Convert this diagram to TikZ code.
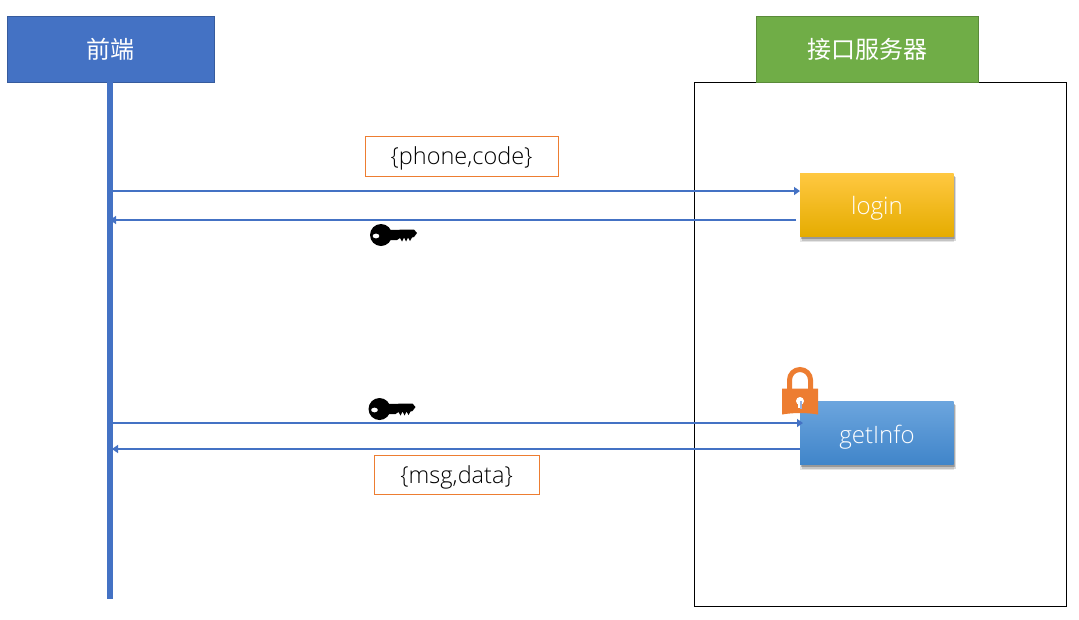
\documentclass[tikz,border=0pt]{standalone}
\usepackage{fontspec}
\setmainfont{Open Sans}[UprightFont=* Light]
\newfontfamily\cjk{Noto Sans CJK SC}[UprightFont=*]
\usetikzlibrary{arrows.meta,shadows}
\definecolor{blueA}{HTML}{4472C4}
\definecolor{greenA}{HTML}{70AD47}
\definecolor{orangeA}{HTML}{ED7D31}
\newcommand{\lowered}[2]{\raisebox{-#1pt}[0pt][0pt]{#2}}
\tikzset{
  header/.style={draw=blueA!80!black,line width=.5pt,text=white,font=\cjk\fontsize{24}{28}\selectfont,anchor=north west,inner sep=0pt},
  softshadow/.style={
     drop shadow={shadow xshift=0pt,shadow yshift=-5pt,opacity=.10,fill=black},
     drop shadow={shadow xshift=2pt,shadow yshift=-4pt,opacity=.14,fill=black},
     drop shadow={shadow xshift=1pt,shadow yshift=-2.5pt,opacity=.22,fill=black}},
  method/.style={anchor=north west,inner sep=0pt,minimum width=153.5pt,minimum height=63.5pt,text=white,font=\fontsize{24}{28}\selectfont,softshadow},
  tag/.style={draw=orangeA,line width=.7pt,fill=white,anchor=north west,inner sep=0pt,minimum height=39.5pt,font=\fontsize{23.5}{28}\selectfont,text=black},
  flow/.style={draw=blueA,line width=1.4pt,-{Triangle[length=6pt,width=8pt]}},
  keyicon/.pic={
    \fill[black,even odd rule] (0,0) circle[radius=11pt] (-5,1) ellipse[x radius=3.5pt,y radius=2.5pt];
    \fill[black] (8,-5) -- (29,-5.5) -- (33,-5.5) -- (36,-2) -- (33,2) -- (31,2.5) -- (29,6) -- (27,2.5) -- (25,6.5) -- (23,2.5) -- (21,6.5) -- (19,3) -- (16,5) -- (8,5) -- cycle;
  }
}
\begin{document}
\begin{tikzpicture}[x=1pt,y=-1pt]
\useasboundingbox (0,0) rectangle (1079,619);
\fill[white] (0,0) rectangle (1079,619);
\node[draw=black,line width=.8pt,anchor=north west,minimum width=372pt,minimum height=524pt,inner sep=0pt] (serverbox) at (694,82) {};
\node[header,fill=blueA,minimum width=207pt,minimum height=65.5pt] (front) at (7,16) {\lowered{9.5}{前端}};
\node[header,fill=greenA,draw=greenA!80!black,minimum width=222pt,minimum height=65.5pt] (server) at (756,16) {\lowered{9.5}{接口服务器}};
\coordinate (lifeEnd) at (110,599);
\draw[blueA,line width=5.5pt] (front.south -| lifeEnd) -- (lifeEnd);
\node[method,top color={rgb,255:red,255;green,200;blue,65},middle color={rgb,255:red,255;green,192;blue,0},bottom color={rgb,255:red,229;green,172;blue,0}] (login) at (800,173) {\lowered{10}{login}};
\node[method,top color={rgb,255:red,108;green,165;blue,222},middle color={rgb,255:red,84;green,152;blue,220},bottom color={rgb,255:red,64;green,133;blue,201}] (getinfo) at (800,401) {\lowered{10.5}{getInfo}};
\node[tag,minimum width=192.5pt] (req) at (365,136) {\lowered{8}{\{phone,code\}}};
\node[tag,minimum width=164.5pt] (resp) at (374,454.5) {\lowered{9}{\{msg,data\}}};
\coordinate (l1) at (113,191);
\coordinate (l2) at (110,220);
\coordinate (l3) at (113,423);
\coordinate (l4) at (112,449);
\coordinate (r2) at (796,220);
\coordinate (r3) at (803,423);
\draw[flow] (l1) -- (l1 -| login.west);
\draw[flow] (r2) -- (l2);
\draw[flow] (l3) -- (r3);
\draw[flow] (l4 -| getinfo.west) -- (l4);
\pic at (381,235) {keyicon};
\pic at (379.5,409) {keyicon};
% padlock
\draw[orangeA,line width=5pt] (789.5,390) -- (789.5,380) arc[start angle=180,end angle=0,radius=10.5pt] -- (810.5,390);
\fill[orangeA] (782,388.5) -- (818,388.5) -- (818,414.5) .. controls (806,412.5) and (794,412.5) .. (782,414.5) -- cycle;
\fill[white] (800,401) circle[radius=4pt];
\fill[white] (797.5,402) rectangle (802,408);
\fill[blueA!55!white] (800,401) rectangle (802,409);
\end{tikzpicture}
\end{document}
